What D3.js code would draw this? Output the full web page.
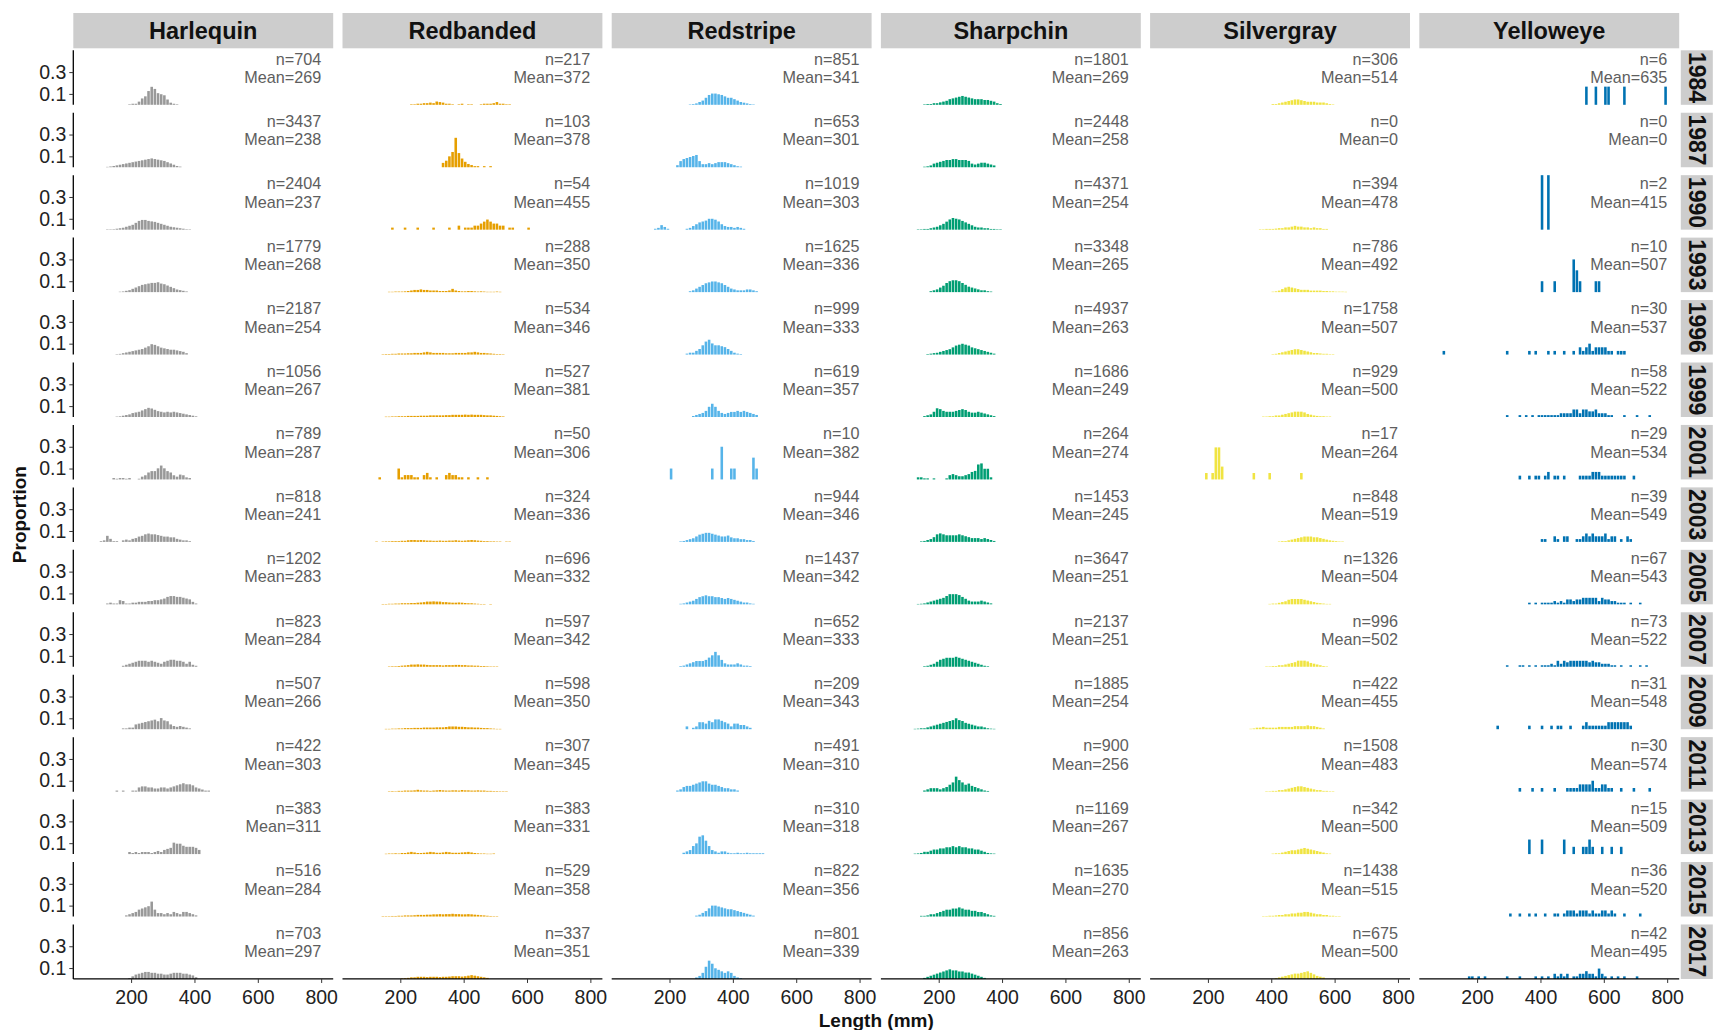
<!DOCTYPE html>
<html><head><meta charset="utf-8">
<script src="https://cdn.jsdelivr.net/npm/d3@7"></script>
<style>body{margin:0;background:#fff;} svg{display:block;}</style>
</head><body><svg id="chart" width="1713" height="1030"></svg>
<script>
// ---------- DATA ----------
const species = ["Harlequin","Redbanded","Redstripe","Sharpchin","Silvergray","Yelloweye"];
const years = [1984,1987,1990,1993,1996,1999,2001,2003,2005,2007,2009,2011,2013,2015,2017];
const speciesColors = ["#999999","#E69F00","#56B4E9","#009E73","#F0E442","#0072B2"];
const binWidth = 10;
const xTicks = [200,400,600,800];
const yTicks = [0.1,0.3];

const harlequinN    = [704,3437,2404,1779,2187,1056,789,818,1202,823,507,422,383,516,703];
const harlequinMean = [269,238,237,268,254,267,287,241,283,284,266,303,311,284,297];
const redbandedN    = [217,103,54,288,534,527,50,324,696,597,598,307,383,529,337];
const redbandedMean = [372,378,455,350,346,381,306,336,332,342,350,345,331,358,351];
const redstripeN    = [851,653,1019,1625,999,619,10,944,1437,652,209,491,310,822,801];
const redstripeMean = [341,301,303,336,333,357,382,346,342,333,343,310,318,356,339];
const sharpchinN    = [1801,2448,4371,3348,4937,1686,264,1453,3647,2137,1885,900,1169,1635,856];
const sharpchinMean = [269,258,254,265,263,249,274,245,251,251,254,256,267,270,263];
const silvergrayN   = [306,0,394,786,1758,929,17,848,1326,996,422,1508,342,1438,675];
const silvergrayMean= [514,0,478,492,507,500,264,519,504,502,455,483,500,515,500];
const yelloweyeN    = [6,0,2,10,30,58,29,39,67,73,31,30,15,36,42];
const yelloweyeMean = [635,0,415,507,537,522,534,549,543,522,548,574,509,520,495];

// Harlequin, Redstripe, Sharpchin: [first bin start (mm), relative bar weights per 10 mm bin]
// (the proportion of a bar is its weight over the panel's total weight)
const harlequinHist = [
  [190,[0.5,1,1,3,6,8,13,17,15,11,10,9,5,2,1,0.5]],
  [120,[0.3,0.6,1,1.5,2,2.5,3,3.5,4,4.5,5,5.5,6,6.5,7,6.5,6,5.5,5,4,3,2,1,0.5]],
  [120,[0.2,0.3,0.5,1,1.5,2,3,4,5,7,9,10,10,9,8.5,8,7,6,5,4,3,2.5,2,1.5,1,0.5,0.3]],
  [160,[0.3,0.5,1,1.5,2.5,3.5,4.5,5.5,6,6.5,7,7,7.5,6.5,6,5,4,3,2,1.5,1,0.5]],
  [150,[0.3,0.5,1,1.5,2,2.5,3,3.5,4,5,6,7.5,7,6,5,4.5,4,3.5,3.5,3,2.5,2,1]],
  [150,[0.3,0.5,1,1.5,2,3,3.5,4,5,6,7,6.5,5.5,4.5,4,3.5,4,3.5,4,3.5,3,2.5,2,1.5,1,0.5]],
  [140,[1,0.5,1,1,0.5,1,0,0,0.5,2,3,5,6,6,8,10,8,6,5,3,2,3.5,3,1.5,1]],
  [100,[0.5,1,4,2,0.5,0.5,0,1,1.5,1,2,2.5,3.5,4,5,5.5,5,5,4.5,4,3.5,3.5,3,3,2,1.5,1,1,0.5]],
  [120,[0.5,1,0.5,0.5,2.5,2,0.5,0.5,1,1,1.5,1.5,1.5,2,2,2.5,2.5,3,3.5,4.5,5,5,4.5,4.5,4,3.5,3,1.5,0.5]],
  [170,[0.5,1,1.5,2,2.5,3,3,3,2.5,3,2.5,2,1.5,2.5,3,3.5,3.5,3,3,2.5,1.5,2.5,1,0.5]],
  [170,[0.5,0.5,1,1,3,3.5,4,4.5,5,5.5,6,5,7,5.5,5,3,2,1.5,2,1.5,1,0.5]],
  [150,[0.5,0,0.5,0,0,0.5,0.5,2,2.5,2.5,2,2,1.5,1.5,2,2,1.5,2,2.5,3,3.5,4,3.5,3.5,3,2,1.5,1,0.5,0.5]],
  [190,[1,0.5,1,0.5,1,1,1,0.5,1,1.5,1,2,2.5,3,5.5,5,5,4,3.5,3.5,3.5,3,2]],
  [180,[0.5,1,1.5,2,3,3.5,4,4.5,6.5,3,1.5,1.5,1,1.5,1,2,1.5,1,2,2,1.5,1,0.5]],
  [190,[0.5,1.5,2.5,3,3.5,4,4,3.5,3.5,3,3,2.5,2.5,3,3.5,3.5,3.5,3,3,2.5,2,1]]
];
const redstripeHist = [
  [260,[0.3,0.5,1,2,3,5,7,8,8,7.5,7,6,5,5,4,3,2,1.5,1,0.5,0.3]],
  [220,[1,3,4,4.5,5,5.5,6,3,1.5,1.5,2,1.5,2,2.5,2.5,2.5,2,1.5,1,0.5,0.3]],
  [150,[0.5,1,2.5,1.5,0.5,0,0,0,0,0,0.5,1,2,3,4,4.5,5,6,6,5.5,4.5,3,2,1.5,1.5,1,1.5,1,0.5]],
  [260,[0.5,1,2,3,4,5,5.5,6,6,5.5,5,4,3,2,1.5,1,1,1,1.5,1.5,1,0.5]],
  [250,[0.5,1,1,2,3,5,7,8,6,5,5,4.5,4,3,2,1,0.5,0.3]],
  [270,[0.5,1,1.5,2,3,5,6.5,5,3,2,1.5,2,2.5,2.5,3,2.5,3,2.5,2,1.5,1]],
  [200,[10,0,0,0,0,0,0,0,0,0,0,0,0,10,0,0,30,0,0,10,10,0,0,0,0,0,20,10]],
  [230,[0.3,0.5,1,1.5,2,3,4,4.5,5,5,4.5,4,3.5,3,3,3.5,2.5,2,2,1.5,1.5,1,1,0.5]],
  [230,[0.3,0.5,1,1.5,2,3,4,4.5,5,4.5,4.5,4,4,3.5,3,3.5,3,2.5,2,1.5,1,1,0.5,0.3]],
  [230,[0.3,0.5,1,1.5,2,2.5,2.5,2.5,3,4,5,6.5,5,3,1.5,1,1,1,1.5,1,0.5,0.5,0.3]],
  [250,[1,0,0.5,1,2.5,2.5,2,3,2.5,3.5,3.5,3,2.5,2,1,2,2,1.5,1.5,1,0.5]],
  [220,[0.5,1,2,2.5,2.5,3,3.5,4,4.5,4.5,3.5,3,3,2.5,2,1.5,1.5,1,1,0.5]],
  [240,[0.5,1,1.5,3,4,6.5,7,5,3,1.5,1,0.5,1,1,0.5,0.3,0.3,0.5,0.3,0.3,0.5,0.3,0.3,0.3,0.3,0.3]],
  [280,[0.5,1,2,3,4.5,6,6,5.5,5,4.5,4,4,3.5,3,2.5,2,1.5,1,0.5]],
  [280,[1,2,4,8,12,10,7,6,5,4,5,4,2,1,0.5]]
];
const sharpchinHist = [
  [150,[0.3,0.5,0.5,1,1,1.5,2,2.5,3.5,4,4.5,5,5.5,5,4.5,4,3.5,3.5,3.5,3,3,2.5,2,1,0.5]],
  [150,[0.3,0.5,1,2,2.5,3,3.5,4,4,4.5,4.5,4,4,4,3.5,2,1.5,2,2.5,2.5,2,1.5,1]],
  [130,[0.2,0.3,0.5,0.5,1,1.5,2,3,4,5.5,7,8,7.5,7,6,5,4,3,2,1.5,1.5,1,1,0.5,0.5,0.3,0.3]],
  [170,[0.5,1,1.5,2.5,3.5,5,6,6.5,6.5,6,5,4,3,2.5,2,1.5,1,1,0.5,0.3]],
  [160,[0.3,0.5,0.8,1,1.5,2,2.5,3,4,5,5.5,6,5.5,5,4,3.5,3,2.5,2,1.5,1,0.5]],
  [150,[0.5,1,1.5,3,5,4.5,3.5,3,3,3,3.5,4,4.5,4,3,2.5,2.5,3,2.5,2,1.5,1,0.5]],
  [130,[1,1,0.5,0.5,0,0.5,0,0,0,0.5,2,2.5,2,1.5,1.5,2,2.5,3.5,4,7,7.5,5,5,1]],
  [140,[0.3,0.5,1,1.5,2.5,4,4.5,4,3.5,3.5,3.5,3.5,4,3.5,3,2.5,2,2,2,1.5,2,1.5,1,0.5]],
  [130,[0.2,0.3,0.5,1,1.5,2,2.5,3,3.5,4.5,5.5,5.5,5.5,5,4,3,2,1.5,1.5,1.5,2,1.5,1,0.5]],
  [150,[0.3,0.5,1,1.5,2.5,3.5,4,4.5,4.5,4.5,5,4.5,4,3.5,3,2.5,2,1.5,1,0.5,0.3]],
  [120,[0.2,0.3,0.5,0.5,1,1.5,2,2.5,3,3.5,4,4.5,5,6,5,4.5,3.5,3,2.5,2,1.5,1.5,1,0.5,0.3,0.2]],
  [150,[0.5,1,1.5,1.5,1.5,1,1.5,2,3,4,6.5,5,4,3,3.5,2.5,2,1.5,1,0.5,0.3]],
  [120,[0.2,0.3,0.5,1,1,1.5,2,2,2.5,2.5,3,3,3.5,3,3.5,3,3,2.5,2.5,2,2,1.5,1,0.5,0.3,0.2]],
  [140,[0.3,0.3,0.5,1,1,1.5,2,2.5,3,3,3.5,3.5,4,3.5,3,3,2.5,2.5,2,2,1.5,1,0.5,0.3]],
  [150,[0.5,1,1.5,2,2.5,3,3.5,4,4.5,4,4,3.5,3.5,3,3,2.5,2,1.5,1,0.5]]
];
// Redbanded, Silvergray: [first bin start (mm), bar height in percent per 10 mm bin, as read]
const redbandedPct = [
  [230,[0.5,0.5,1,1,1.5,1.5,2,1.5,3,2.5,2,1,1,0.5,0,0.5,1,0,0.5,0.5,0,0,0.5,1,1,1,1.5,2.5,1,1,0.5,0.5]],
  [330,[4,6,10,14,27,13,8,5,3,2,1,1,0,1,0,1]],
  [170,[1.9,0,0,0,1.9,0,0,0,1.9,0,0,0,0,1.9,0,0,0,0,1.9,0,0,3.7,0,1.9,1.9,1.9,3.7,3.7,5.6,7.4,9.3,7.4,5.6,5.6,3.7,3.7,0,1.9,1.9,0,0,0,0,1.9]],
  [160,[0.3,0.3,0.5,0.5,0.5,0.7,1,1.5,2,2,2.5,2,2,1.5,1.5,1.5,1,1,1,1.5,3,1.5,1,0.7,0.7,1,1,0.7,0.5,0.7,0.5,0.3,0.3,0.3,0.5,0.3]],
  [140,[0.3,0.5,0.5,0.7,0.7,1,1,1,1.2,1.2,1.5,1.5,1.5,2,2.5,2,1.5,1.5,1.5,1.5,1.2,1.2,1.2,1.5,1.5,1.5,1.5,2,2,2.5,2,1.5,1.5,1.2,1,0.7,0.5,0.5,0.3]],
  [150,[0.3,0.3,0.5,0.5,0.7,0.7,0.7,1,1,1,1,1.2,1.2,1.2,1.5,1.5,1.5,1.5,1.5,1.7,1.7,2,2,2,2,2.2,2,2.2,2,2,2,1.7,1.5,1.5,1.2,1,0.7,0.5]],
  [130,[2,0,0,0,0,0,10,2,4,4,4,2,2,0,4,6,2,0,2,0,0,4,6,4,4,2,2,0,2,0,0,2,0,0,2]],
  [120,[0.3,0,0.3,0.5,0.5,0.7,0.7,0.7,1,1,1.5,1.7,1.7,1.5,1.7,1.5,1.2,1.2,1,1,1.2,1,1,1.2,1.2,1.5,1.2,1,1.2,1.5,1.7,1.5,1.2,1,0.7,0.7,0.5,0.5,0.3,0.3,0,0.3,0.3]],
  [140,[0.3,0.3,0.5,0.5,0.7,0.7,1,1,1,1.2,1.2,1.5,1.7,2,2.5,2.5,2.7,2.5,2.5,2,2,1.7,1.5,1.5,1.7,1.5,1.2,1,1,0.7,0.5,0.3,0.3,0,0.3]],
  [160,[0.3,0.5,0.5,0.7,1,1.2,1.5,2,2,2.2,2,2,1.7,1.5,1.5,1.5,1.5,1.2,1.5,1.5,1.5,1.7,1.7,1.5,1.5,1.2,1.2,1,1,0.7,0.7,0.5,0.3,0.3,0.3]],
  [150,[0.3,0.3,0.5,0.5,0.7,0.7,1,1,1,1.2,1.2,1.2,1.5,1.5,1.5,1.5,1.7,1.7,1.7,2,2.5,2.5,2.5,2.2,2.2,2,1.7,1.7,1.5,1.5,1.2,1,1,0.7,0.5,0.3,0.3]],
  [160,[0.3,0.5,0.3,0.7,0.7,1,1,1,1.2,1.7,1.2,1,1,0.7,1,1.2,1.5,1.2,1,1,1.2,1.2,1,1.5,1.2,1.2,1,1,1.2,1,1,0.7,0.7,0.5,0.5,0.3,0.3,0.3]],
  [150,[0.3,0.5,0.5,0.7,0.5,1,1,1.5,2,1.5,1,1,1.2,1.5,2,1.7,1.2,1.2,1.5,2,1.7,1.2,1.2,1.2,1.5,1.7,2,1.5,1,0.7,0.5,0.5,0.3,0.3,0.5]],
  [140,[0.3,0.3,0.3,0.5,0.5,0.7,0.7,1,1,1,1.2,1.5,1.5,1.5,1.7,1.7,2,2,2.2,2,2.2,2.2,2.5,2.2,2.2,2,2,2.2,2,1.7,1.5,1.2,1,0.7,0.5,0.3,0.3]],
  [200,[0.5,0.7,1,1.5,1.5,2,2,2,1.7,2,2,2,1.7,2,2,2.2,2.5,2.5,2.5,2.2,2.5,3,3.5,3,2.5,2,1.5,1]]
];
const silvergrayPct = [
  [400,[0.7,0.7,1.4,2.1,2.8,3.5,4.2,4.9,4.9,4.2,3.5,2.8,2.8,2.8,2.1,2.1,2.1,1.4,0.7,0.4]],
  [400,[]],
  [360,[0.4,0.4,0.7,0.7,0.7,1,1.4,1.4,2.1,2.1,2.8,3.5,2.8,2.8,2.1,2.1,1.4,2.1,1.4,1.4,0.7,0.7]],
  [400,[0.4,0.7,1.4,2.8,4.2,4.9,4.2,3.5,2.8,2.1,2.1,2.1,1.4,1.4,1.4,1.4,1,1,0.7,0.7,0.4,0.4,0.4,0.3]],
  [400,[0.4,0.7,1.4,2.1,2.8,3.5,4.2,4.9,4.9,4.2,3.5,2.8,2.1,1.4,1.4,1,0.7,0.7,0.4,0.4]],
  [370,[0.4,0.4,0.7,0.7,1.4,1.4,2.1,2.8,3.5,4.2,4.9,4.9,4.9,4.2,2.8,2.1,1.4,1,0.7,0.7,0.4,0.4]],
  [190,[5.9,0,5.9,29.4,29.4,11.8,0,0,0,0,0,0,0,0,0,5.9,0,0,0,0,5.9,0,0,0,0,0,0,0,0,0,5.9]],
  [420,[0.4,0.7,0.7,1.4,2.1,2.8,3.5,4.2,4.9,4.9,4.9,4.2,4.2,3.5,2.8,2.1,1.4,1,0.7,0.4,0.4]],
  [390,[0.4,0.7,0.7,1.4,2.1,2.8,4.2,4.9,4.9,4.9,4.9,4.2,3.5,2.8,2.1,1.4,1,0.7,0.4,0.4]],
  [380,[0.4,0.4,0.7,0.7,1.4,1.4,2.1,2.8,3.5,4.2,5.6,5.6,5.6,4.9,3.5,2.8,2.1,1.4,0.7,0.4]],
  [330,[0.4,0.7,1.4,1.4,2.1,1.4,1.4,1.4,1.4,2.1,2.1,2.1,2.1,2.1,2.8,2.8,2.8,2.8,3.5,2.8,2.8,2.1,1.4,0.7]],
  [380,[0.4,0.4,0.7,0.7,1.4,1.4,2.1,2.8,3.5,4.2,4.9,4.9,4.2,3.5,2.8,2.1,1.4,1.4,0.7,0.7,0.4,0.4]],
  [400,[0.4,0.7,0.7,1.4,2.1,2.8,3.5,3.5,4.2,4.9,5.6,4.9,4.2,3.5,2.8,2.1,1.4,0.7,0.4]],
  [370,[0.3,0.4,0.7,0.7,1,1.4,1.4,2.1,2.1,2.8,2.8,3.5,3.5,4.2,4.2,3.5,2.8,2.1,2.1,1.4,1.4,0.7,0.7,0.4,0.3]],
  [410,[0.7,1.4,2.1,2.8,3.5,4.2,4.9,4.9,5.6,6.3,7,5.6,4.2,2.8,2.1,1.4]]
];
// Yelloweye: [bin start (mm), number of fish]
const yelloweyeCounts = [
  [[540,1],[570,1],[600,1],[610,1],[660,1],[790,1]],
  [],
  [[400,1],[420,1]],
  [[400,1],[440,1],[500,3],[510,2],[520,1],[570,1],[580,1]],
  [[90,1],[290,1],[360,1],[380,1],[420,1],[440,1],[470,1],[500,1],[520,2],[530,1],[540,2],[550,3],[560,1],[570,2],[580,2],[590,2],[600,2],[610,1],[620,1],[640,1],[650,1],[660,1]],
  [[290,1],[330,1],[350,1],[370,1],[390,1],[400,1],[410,1],[420,1],[430,1],[440,1],[450,1],[460,2],[470,2],[480,2],[490,2],[500,4],[510,4],[520,2],[530,4],[540,4],[550,3],[560,3],[570,4],[580,2],[590,2],[600,2],[610,1],[620,1],[660,1],[700,1],[740,1]],
  [[330,1],[360,1],[380,1],[390,1],[410,1],[420,2],[440,1],[450,1],[470,1],[520,1],[530,1],[540,1],[550,1],[560,2],[570,2],[580,2],[590,1],[600,1],[610,1],[620,1],[630,1],[640,1],[650,1],[660,1],[690,1]],
  [[400,1],[410,1],[440,2],[450,1],[470,2],[480,2],[510,1],[520,1],[530,2],[540,3],[550,2],[560,3],[570,2],[580,2],[590,2],[600,3],[610,1],[620,2],[630,2],[650,1],[670,2],[680,1]],
  [[360,1],[380,1],[400,1],[410,1],[420,1],[430,1],[440,2],[450,1],[460,2],[470,1],[480,3],[490,3],[500,2],[510,3],[520,3],[530,4],[540,4],[550,4],[560,4],[570,4],[580,2],[590,4],[600,3],[610,3],[620,2],[630,2],[640,1],[650,1],[660,1],[680,1],[710,1]],
  [[290,1],[330,1],[340,1],[360,1],[380,1],[400,1],[410,1],[420,1],[430,2],[440,1],[450,4],[460,2],[470,4],[480,3],[490,4],[500,4],[510,4],[520,4],[530,4],[540,4],[550,3],[560,4],[570,3],[580,3],[590,2],[600,2],[610,2],[620,1],[630,1],[650,1],[680,1],[710,1],[730,1]],
  [[260,1],[360,1],[400,1],[430,1],[450,1],[460,1],[490,1],[530,1],[540,2],[550,1],[560,1],[570,1],[580,1],[590,1],[600,1],[610,2],[620,2],[630,2],[640,2],[650,2],[660,2],[670,2],[680,1]],
  [[330,1],[370,1],[400,1],[440,1],[480,1],[490,1],[500,1],[510,1],[520,2],[530,2],[540,2],[550,2],[560,3],[570,1],[580,1],[590,2],[600,2],[610,1],[620,1],[650,1],[690,1],[740,1]],
  [[360,2],[400,2],[470,2],[500,1],[530,1],[540,1],[550,2],[560,1],[590,1],[620,1],[650,1]],
  [[300,1],[330,1],[360,1],[380,1],[410,1],[440,1],[450,1],[470,1],[480,2],[490,2],[500,2],[510,1],[520,2],[530,2],[540,2],[550,1],[560,2],[570,1],[580,1],[590,2],[600,2],[610,1],[620,2],[630,1],[660,1],[710,1]],
  [[170,1],[180,1],[200,1],[220,1],[290,1],[330,1],[380,1],[400,1],[420,1],[440,2],[450,1],[460,2],[470,1],[480,2],[500,1],[510,1],[520,2],[530,2],[540,3],[550,2],[560,2],[570,1],[580,4],[590,2],[600,1],[620,1],[640,1],[660,1],[700,1]]
];

// ---------- BUILD TABLE ----------
function weightBins(row){
  const total = d3.sum(row[1]) || 1;
  return row[1].map((h,i)=>({x0: row[0]+i*binWidth, p: h/total})).filter(d=>d.p>0);
}
function pctBins(row){
  return row[1].map((h,i)=>({x0: row[0]+i*binWidth, p: h/100})).filter(d=>d.p>0);
}
function countBins(list, n){ return list.map(([x0,k]) => ({x0, p: k / n})); }

const nSets = [harlequinN, redbandedN, redstripeN, sharpchinN, silvergrayN, yelloweyeN];
const meanSets = [harlequinMean, redbandedMean, redstripeMean, sharpchinMean, silvergrayMean, yelloweyeMean];
const binMakers = [
  r => weightBins(harlequinHist[r]),
  r => pctBins(redbandedPct[r]),
  r => weightBins(redstripeHist[r]),
  r => weightBins(sharpchinHist[r]),
  r => pctBins(silvergrayPct[r]),
  r => countBins(yelloweyeCounts[r], yelloweyeN[r])
];
const panels = [];
species.forEach((sp, c) => {
  years.forEach((yr, r) => {
    panels.push({c, r, sp, yr, n: nSets[c][r], mean: meanSets[c][r], bins: binMakers[c](r), color: speciesColors[c]});
  });
});

// ---------- LAYOUT ----------
const svg = d3.select("#chart");
const FONT = "'Liberation Sans', Arial, Helvetica, sans-serif";
const left0 = 73.3, top0 = 50.3;
const panelW = 259.9, panelH = 54.5, colStep = 269.2, rowStep = 62.44;
const x = d3.scaleLinear().domain([17.5, 838]).range([0, panelW]);
const y = d3.scaleLinear().domain([0, 0.5]).range([panelH, 0]);

svg.append("rect").attr("width",1713).attr("height",1030).attr("fill","#fff");

// column strips
species.forEach((sp, c) => {
  const g = svg.append("g").attr("transform", `translate(${left0 + c*colStep},13)`);
  g.append("rect").attr("width", panelW).attr("height", 35.3).attr("fill", "#CDCDCD");
  g.append("text").attr("x", panelW/2).attr("y", 17.8).attr("text-anchor","middle")
    .attr("dominant-baseline","central").attr("font-family",FONT).attr("font-weight","bold")
    .attr("font-size",23.5).attr("fill","#111").text(sp);
});
// row strips
const stripX = left0 + 5*colStep + panelW + 1.6;
years.forEach((yr, r) => {
  const g = svg.append("g").attr("transform", `translate(${stripX},${top0 + r*rowStep})`);
  g.append("rect").attr("width", 32).attr("height", panelH).attr("fill", "#CDCDCD");
  g.append("text").attr("transform", `translate(16,${panelH/2}) rotate(90)`)
    .attr("text-anchor","middle").attr("dominant-baseline","central")
    .attr("font-family",FONT).attr("font-weight","bold").attr("font-size",23).attr("fill","#111").text(yr);
});

// panels
const pg = svg.selectAll("g.panel").data(panels).join("g").attr("class","panel")
  .attr("transform", d => `translate(${left0 + d.c*colStep},${top0 + d.r*rowStep})`);

pg.each(function(d){
  const g = d3.select(this);
  const bw = x(binWidth) - x(0);
  g.selectAll("rect.bar").data(d.bins).join("rect").attr("class","bar")
    .attr("x", b => x(b.x0) + 0.3)
    .attr("width", Math.max(0.8, bw - 0.6))
    .attr("y", b => y(b.p))
    .attr("height", b => Math.max(0.4, y(0) - y(b.p)))
    .attr("fill", d.color);
  g.append("text").attr("x", x(800)).attr("y", 8.3).attr("text-anchor","end")
    .attr("dominant-baseline","central").attr("font-family",FONT).attr("font-size",16.2)
    .attr("fill","#5e5e5e").text(`n=${d.n}`);
  g.append("text").attr("x", x(800)).attr("y", 26.6).attr("text-anchor","end")
    .attr("dominant-baseline","central").attr("font-family",FONT).attr("font-size",16.2)
    .attr("fill","#5e5e5e").text(`Mean=${d.mean}`);
});

// y axes (first column)
years.forEach((yr, r) => {
  const g = svg.append("g").attr("transform", `translate(${left0},${top0 + r*rowStep})`);
  const ax = d3.axisLeft(y).tickValues(yTicks).tickFormat(d3.format(".1f")).tickSize(4).tickPadding(3);
  g.call(ax);
  g.select(".domain").attr("stroke","#000").attr("stroke-width",1.3).attr("d", `M0,0V${panelH}`);
  g.selectAll(".tick line").attr("stroke","#333").attr("stroke-width",1);
  g.selectAll(".tick text").attr("font-family",FONT).attr("font-size",19.5).attr("fill","#222");
});
// x axes (bottom row)
species.forEach((sp, c) => {
  const g = svg.append("g").attr("transform", `translate(${left0 + c*colStep},${top0 + 14*rowStep + panelH})`);
  const ax = d3.axisBottom(x).tickValues(xTicks).tickSize(4).tickPadding(7);
  g.call(ax);
  g.select(".domain").attr("stroke","#000").attr("stroke-width",1.3).attr("d", `M0,0H${panelW}`);
  g.selectAll(".tick line").attr("stroke","#333").attr("stroke-width",1);
  g.selectAll(".tick text").attr("font-family",FONT).attr("font-size",19.5).attr("fill","#222");
});

// axis titles
svg.append("text").attr("x", left0 + (5*colStep + panelW)/2).attr("y", 1020.5)
  .attr("text-anchor","middle").attr("dominant-baseline","central")
  .attr("font-family",FONT).attr("font-weight","bold").attr("font-size",19).attr("fill","#111")
  .text("Length (mm)");
svg.append("text").attr("transform", `translate(19.7,${top0 + (14*rowStep + panelH)/2}) rotate(-90)`)
  .attr("text-anchor","middle").attr("dominant-baseline","central")
  .attr("font-family",FONT).attr("font-weight","bold").attr("font-size",19).attr("fill","#111")
  .text("Proportion");
</script>
</body></html>
